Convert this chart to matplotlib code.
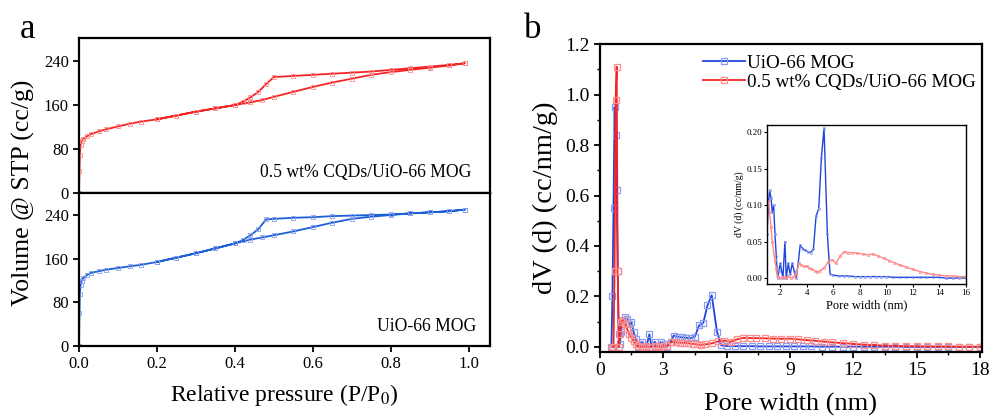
import matplotlib
matplotlib.use("Agg")
import matplotlib.pyplot as plt
from matplotlib.ticker import MultipleLocator

plt.rcParams['font.family'] = ['Liberation Serif', 'DejaVu Serif']
plt.rcParams['mathtext.fontset'] = 'stix'

# ---- panel a: N2 isotherms ----
p_ads = [0.0, 0.001, 0.002, 0.004, 0.007, 0.01, 0.02, 0.03, 0.05, 0.07, 0.1, 0.13, 0.16,
         0.2, 0.25, 0.3, 0.35, 0.4, 0.44, 0.47, 0.5, 0.55, 0.6, 0.65, 0.7, 0.75, 0.8,
         0.85, 0.9, 0.95, 0.99]
p_des = [0.99, 0.95, 0.9, 0.85, 0.8, 0.75, 0.7, 0.65, 0.6, 0.55, 0.5, 0.48, 0.46, 0.44,
         0.42, 0.4, 0.35, 0.3, 0.25, 0.2]
cqd_ads = [0, 40, 70, 88, 95, 98, 103, 107, 112, 116, 121, 126, 130, 134, 141, 148, 154,
           160, 165, 169, 175, 184, 193, 201, 208, 215, 220, 224, 228, 232, 236]
cqd_des = [236, 233, 230, 227, 224, 221, 219, 217, 215, 213, 211, 198, 184, 174, 166,
           160, 154, 148, 141, 134]
uio_ads = [0, 60, 95, 112, 120, 124, 130, 134, 137, 140, 143, 146, 149, 154, 162, 170,
           179, 188, 195, 199, 203, 210, 218, 226, 233, 237, 240, 243, 245, 247, 250]
uio_des = [250, 247, 245, 243, 241, 240, 239, 238, 236, 235, 233, 232, 214, 203, 194,
           188, 179, 170, 162, 154]

# ---- panel b: pore size distribution ----
w_uio = [0.55, 0.6, 0.65, 0.7, 0.75, 0.8, 0.85, 0.9, 0.95, 1.0, 1.1, 1.2, 1.3, 1.4, 1.5,
         1.6, 1.7, 1.8, 1.9, 2.0, 2.2, 2.35, 2.45, 2.6, 2.75, 2.9, 3.05, 3.2, 3.35, 3.5,
         3.7, 3.9, 4.1, 4.3, 4.5, 4.7, 4.9, 5.1, 5.3, 5.55, 5.75, 6.0, 6.4, 6.8, 7.2, 7.6,
         8.0, 8.4, 8.8, 9.2, 9.6, 10.0, 10.5, 11.0, 11.5, 12.0, 12.5, 13.0, 13.5, 14.0,
         14.5, 15.0, 15.5, 16.0, 16.5, 17.0, 17.5, 18.0]
dv_uio = [0.0, 0.2, 0.55, 0.95, 0.84, 0.62, 0.3, 0.05, 0.01, 0.06, 0.1, 0.12, 0.11, 0.09,
          0.1, 0.06, 0.03, 0.0, 0.01, 0.02, 0.0, 0.05, 0.0, 0.02, 0.005, 0.02, 0.01, 0.0,
          0.02, 0.045, 0.04, 0.038, 0.036, 0.035, 0.04, 0.085, 0.095, 0.165, 0.205, 0.06,
          0.006, 0.004, 0.003, 0.003, 0.003, 0.002, 0.002, 0.002, 0.002, 0.002, 0.002,
          0.002, 0.001, 0.001, 0.001, 0.001, 0.001, 0.001, 0.001, 0.001, 0.0, 0.0, 0.0,
          0.0, 0.0, 0.0, 0.0, 0.0]
w_cqd = [0.6, 0.65, 0.7, 0.75, 0.8, 0.85, 0.9, 0.95, 1.0, 1.1, 1.2, 1.3, 1.4, 1.5, 1.6,
         1.7, 1.8, 2.0, 2.2, 2.4, 2.6, 2.8, 3.0, 3.2, 3.4, 3.6, 3.8, 4.0, 4.2, 4.4, 4.6,
         4.8, 5.0, 5.3, 5.6, 5.9, 6.2, 6.5, 6.8, 7.1, 7.4, 7.8, 8.2, 8.6, 9.0, 9.4, 9.8,
         10.2, 10.6, 11.0, 11.5, 12.0, 12.5, 13.0, 13.5, 14.0, 14.5, 15.0, 15.5, 16.0,
         16.5, 17.0, 17.5, 18.0]
dv_cqd = [0.0, 0.0, 0.3, 0.98, 1.11, 0.3, 0.0, 0.05, 0.1, 0.105, 0.09, 0.07, 0.05, 0.035,
          0.025, 0.012, 0.003, 0.0, 0.002, 0.0, 0.003, 0.0, 0.002, 0.005, 0.02, 0.018,
          0.016, 0.016, 0.014, 0.012, 0.01, 0.008, 0.01, 0.014, 0.022, 0.025, 0.02, 0.03,
          0.036, 0.035, 0.035, 0.034, 0.033, 0.032, 0.033, 0.03, 0.027, 0.024, 0.021,
          0.018, 0.015, 0.012, 0.009, 0.007, 0.005, 0.004, 0.003, 0.003, 0.002, 0.002,
          0.002, 0.001, 0.001, 0.001]

red = '#f52424'
red_mk = '#ff8a8a'
blue = '#1a5fd6'
blue_mk = '#8a9cf0'
blue_psd = '#1f44dd'

fig = plt.figure(figsize=(9.93, 4.2), dpi=100)

def style(ax, fs):
    for s in ax.spines.values():
        s.set_linewidth(1.6)
    ax.tick_params(direction='out', labelsize=fs, width=1.3, length=4)
    ax.tick_params(which='minor', direction='out', width=1.0, length=2.5)

# top isotherm
ax1 = fig.add_axes([0.0796, 0.5405, 0.414, 0.369])
ax1.plot(p_ads + p_des, cqd_ads + cqd_des, '-', color=red, lw=1.3,
         marker='s', ms=3, mfc='none', mec=red_mk, mew=0.6)
ax1.set_xlim(0, 1.055)
ax1.set_ylim(0, 282)
ax1.set_yticks([0, 80, 160, 240])
ax1.set_xticks([])
style(ax1, 12)
ax1.text(0.955, 0.13, '0.5 wt% CQDs/UiO-66 MOG', transform=ax1.transAxes,
         ha='right', va='center', fontsize=12.7)

# bottom isotherm
ax2 = fig.add_axes([0.0796, 0.176, 0.414, 0.364])
ax2.plot(p_ads + p_des, uio_ads + uio_des, '-', color=blue, lw=1.3,
         marker='s', ms=3, mfc='none', mec=blue_mk, mew=0.6)
ax2.set_xlim(0, 1.055)
ax2.set_ylim(0, 280)
ax2.set_yticks([0, 80, 160, 240])
ax2.set_xticks([0.0, 0.2, 0.4, 0.6, 0.8, 1.0])
ax2.xaxis.set_major_formatter(plt.FormatStrFormatter('%.1f'))
style(ax2, 12)
ax2.text(0.965, 0.13, 'UiO-66 MOG', transform=ax2.transAxes,
         ha='right', va='center', fontsize=12.7)
ax2.set_xlabel('Relative pressure (P/P$_0$)', fontsize=17, labelpad=7)
fig.text(0.024, 0.54, 'Volume @ STP (cc/g)', rotation=90, ha='center', va='center',
         fontsize=18.5)
fig.text(0.02, 0.93, 'a', fontsize=25, ha='left', va='center')

# panel b
ax3 = fig.add_axes([0.604, 0.162, 0.385, 0.733])
ax3.plot(w_uio, dv_uio, '-', color=blue_psd, lw=1.3, marker='s', ms=5, mfc='none',
         mec=blue_mk, mew=0.9, label='UiO-66 MOG')
ax3.plot(w_cqd, dv_cqd, '-', color=red, lw=1.3, marker='s', ms=5, mfc='none',
         mec=red_mk, mew=0.9, label='0.5 wt% CQDs/UiO-66 MOG')
ax3.set_xlim(0, 18.1)
ax3.set_ylim(-0.02, 1.2)
ax3.xaxis.set_major_locator(MultipleLocator(3))
ax3.xaxis.set_minor_locator(MultipleLocator(1.5))
ax3.yaxis.set_major_locator(MultipleLocator(0.2))
ax3.yaxis.set_minor_locator(MultipleLocator(0.1))
ax3.yaxis.set_major_formatter(plt.FormatStrFormatter('%.1f'))
style(ax3, 14)
ax3.set_xlabel('Pore width (nm)', fontsize=19, labelpad=10)
ax3.set_ylabel('dV (d) (cc/nm/g)', fontsize=20.5, labelpad=5)
ax3.legend(loc='upper left', bbox_to_anchor=(0.235, 1.01), frameon=False, fontsize=13.8,
           handlelength=2.2, handletextpad=0.1, labelspacing=0.1, borderaxespad=0.3)
fig.text(0.528, 0.93, 'b', fontsize=25, ha='left', va='center')

# inset
ax4 = fig.add_axes([0.7724, 0.324, 0.2004, 0.379])
ax4.plot(w_uio, dv_uio, '-', color=blue_psd, lw=1.0, marker='s', ms=2, mfc='none',
         mec=blue_mk, mew=0.5)
ax4.plot(w_cqd, dv_cqd, '-', color=red_mk, lw=1.0, marker='s', ms=2, mfc='none',
         mec=red_mk, mew=0.5)
ax4.set_xlim(1, 16)
ax4.set_ylim(-0.008, 0.21)
ax4.xaxis.set_major_locator(MultipleLocator(2))
ax4.yaxis.set_major_locator(MultipleLocator(0.05))
ax4.yaxis.set_major_formatter(plt.FormatStrFormatter('%.2f'))
for s in ax4.spines.values():
    s.set_linewidth(1.0)
ax4.tick_params(direction='out', labelsize=6.5, width=0.8, length=2, pad=1.5)
ax4.set_xlabel('Pore width (nm)', fontsize=9, labelpad=2)
ax4.set_ylabel('dV (d) (cc/nm/g)', fontsize=7, labelpad=2)

fig.savefig('out.png', dpi=100)
